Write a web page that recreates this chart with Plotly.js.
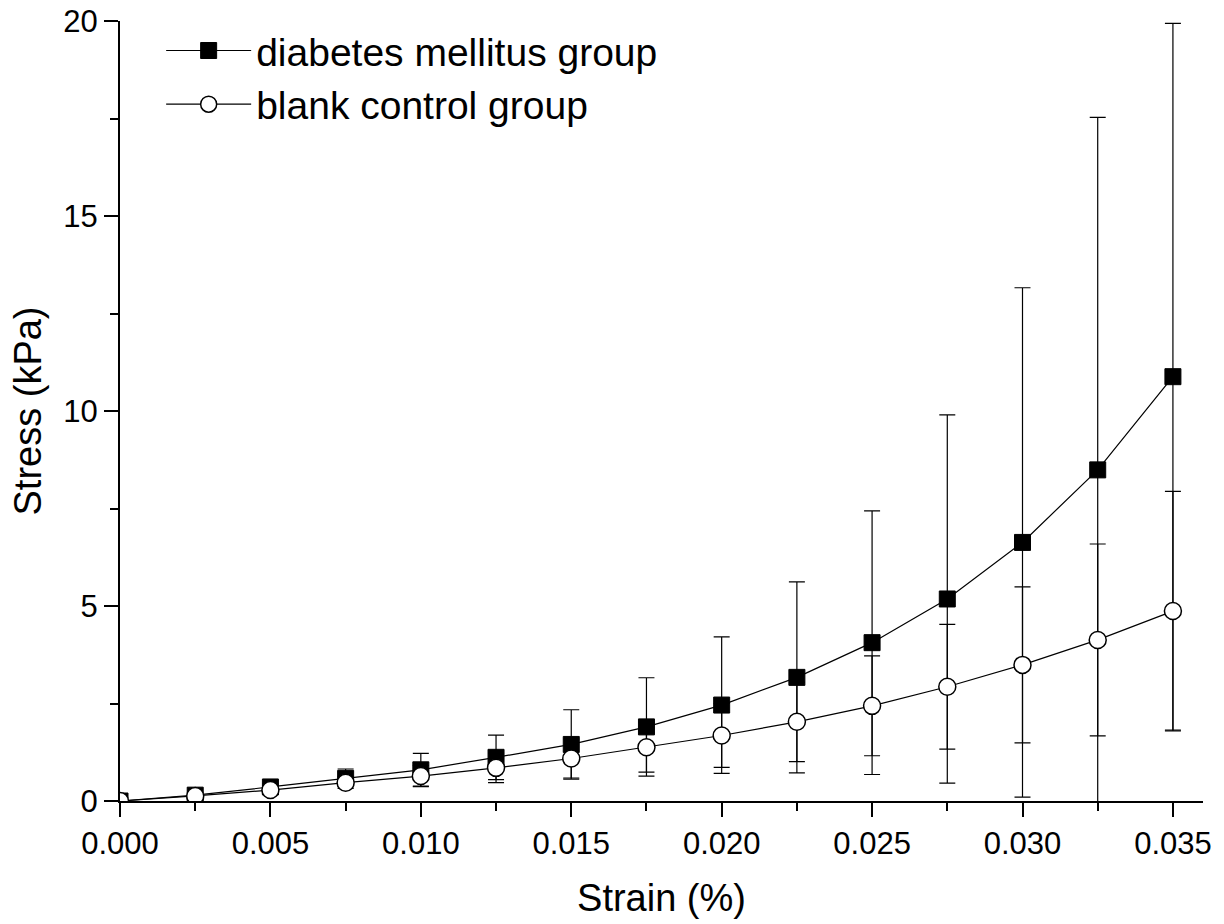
<!DOCTYPE html>
<html>
<head>
<meta charset="utf-8">
<script src="https://cdn.plot.ly/plotly-3.0.1.min.js"></script>
<style>html,body{margin:0;padding:0;background:#fff;}#chart{width:1224px;height:924px;}</style>
</head>
<body>
<div id="chart"></div>
<script>
const strain = [0, 0.0025, 0.005, 0.0075, 0.010, 0.0125, 0.015, 0.0175, 0.020, 0.0225, 0.025, 0.0275, 0.030, 0.0325, 0.035];
const diabetesStress = [0, 0.15, 0.36, 0.58, 0.80, 1.12, 1.45, 1.90, 2.46, 3.17, 4.06, 5.18, 6.63, 8.49, 10.88];
const diabetesErr    = [0, 0.05, 0.08, 0.24, 0.42, 0.57, 0.89, 1.26, 1.75, 2.45, 3.38, 4.72, 6.53, 9.04, 9.06];
const blankStress    = [0, 0.13, 0.28, 0.47, 0.64, 0.85, 1.09, 1.38, 1.68, 2.03, 2.44, 2.93, 3.49, 4.13, 4.87];
const blankErr       = [0, 0.05, 0.10, 0.15, 0.27, 0.38, 0.50, 0.64, 0.82, 1.02, 1.28, 1.60, 2.00, 2.46, 3.07];
const seriesNames = ["diabetes mellitus group", "blank control group"];
const xTitle = "Strain (%)";
const yTitle = "Stress (kPa)";

const FONT = "Liberation Sans, Arial, sans-serif";

const traces = [
  {
    x: strain, y: diabetesStress, name: seriesNames[0],
    type: "scatter", mode: "lines+markers",
    line: {color: "#000", width: 1.2},
    marker: {symbol: "square", size: 16, color: "#000", line: {color: "#000", width: 1}},
    error_y: {type: "data", array: diabetesErr, visible: true, color: "#000", thickness: 1.2, width: 8}
  },
  {
    x: strain, y: blankStress, name: seriesNames[1],
    type: "scatter", mode: "lines+markers",
    line: {color: "#000", width: 1.2},
    marker: {symbol: "circle", size: 17, color: "#fff", line: {color: "#000", width: 1.5}},
    error_y: {type: "data", array: blankErr, visible: true, color: "#000", thickness: 1.2, width: 8}
  }
];

const layout = {
  width: 1224, height: 924,
  margin: {l: 120, r: 21, t: 21, b: 123},
  paper_bgcolor: "#fff", plot_bgcolor: "#fff",
  font: {family: FONT, color: "#000", size: 31},
  showlegend: true,
  legend: {
    x: 0.038, y: 1.003, xanchor: "left", yanchor: "top",
    bgcolor: "rgba(0,0,0,0)", borderwidth: 0,
    font: {family: FONT, size: 39, color: "#000"},
    itemwidth: 85, tracegroupgap: 0
  },
  xaxis: {
    range: [0, 0.036], dtick: 0.005, tick0: 0, tickformat: ".3f",
    showgrid: false, zeroline: false,
    showline: true, linecolor: "#000", linewidth: 2,
    ticks: "outside", ticklen: 14, tickwidth: 2, tickcolor: "#000",
    minor: {dtick: 0.0025, ticks: "outside", ticklen: 8, tickwidth: 2, tickcolor: "#000", showgrid: false},
    tickfont: {family: FONT, size: 31, color: "#000"},
    title: {text: xTitle, font: {family: FONT, size: 38, color: "#000"}, standoff: 24},
    fixedrange: true
  },
  yaxis: {
    range: [0, 20], dtick: 5, tick0: 0,
    showgrid: false, zeroline: false,
    showline: true, linecolor: "#000", linewidth: 2,
    ticks: "outside", ticklen: 14, tickwidth: 2, tickcolor: "#000",
    minor: {dtick: 2.5, ticks: "outside", ticklen: 8, tickwidth: 2, tickcolor: "#000", showgrid: false},
    tickfont: {family: FONT, size: 31, color: "#000"},
    title: {text: yTitle, font: {family: FONT, size: 38, color: "#000"}, standoff: 10},
    fixedrange: true
  }
};

Plotly.newPlot("chart", traces, layout, {displayModeBar: false, staticPlot: true});
</script>
</body>
</html>
